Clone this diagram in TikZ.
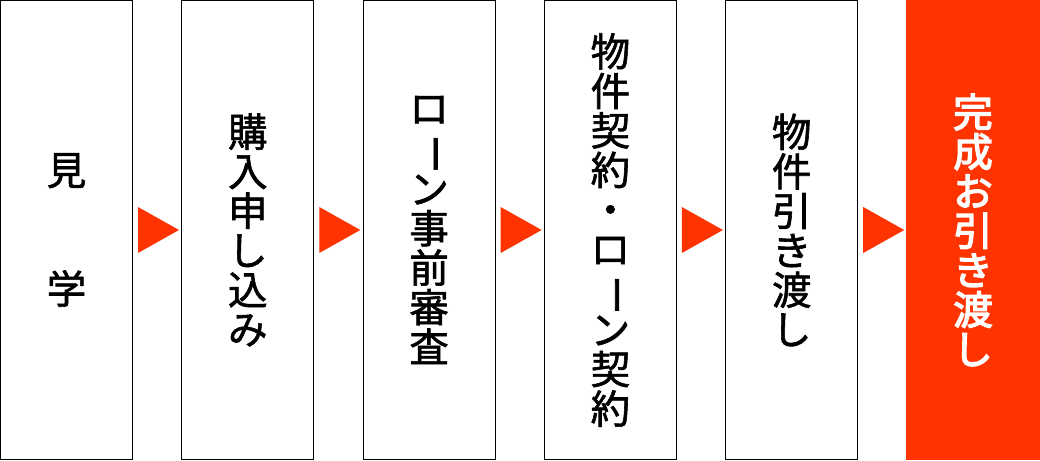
\documentclass[tikz,border=0pt]{standalone}
\usepackage{fontspec}
\usepackage{graphicx}
\newfontfamily\jp[FakeBold=1.5]{Noto Sans CJK JP}
\newfontfamily\jpgoal[FakeBold=3.5]{Noto Sans CJK JP}
\definecolor{stepred}{HTML}{FF3300}
\newcommand{\tatebou}{\rotatebox[origin=c]{-90}{ー}}

\begin{document}
\begin{tikzpicture}[x=1pt, y=1pt, node distance={181.3pt}, line width=1pt,
  main/.style = {draw, minimum width=132pt, minimum height=459pt, inner sep=0pt, align=center, font=\jp\fontsize{39.5}{39.5}\selectfont},
  goal/.style = {main, draw=none, fill=stepred, text=white, minimum width=134pt, minimum height=460pt, font=\jpgoal\fontsize{39.5}{39.5}\selectfont}]
\useasboundingbox (0,0) rectangle (1040,460);

\node[main] (1) at (66.5,230) {見\\　\\　\\学};
\node[main] (2) [right of=1] {購\\入\\申\\し\\込\\み};
\node[main] (3) [right of=2] {ロ\\\tatebou\\ン\\事\\前\\審\\査};
\node[main] (4) [right of=3] {物\\件\\契\\約\\・\\ロ\\\tatebou\\ン\\契\\約};
\node[main] (5) [right of=4] {物\\件\\引\\き\\渡\\し};
\node[goal] (6) [right of=5] {完\\成\\お\\引\\き\\渡\\し};

\fill[stepred] ([xshift=5pt, yshift=23pt]1.east) -- ([xshift=46pt]1.east) -- ([xshift=5pt, yshift=-23pt]1.east) -- cycle;
\fill[stepred] ([xshift=5pt, yshift=23pt]2.east) -- ([xshift=46pt]2.east) -- ([xshift=5pt, yshift=-23pt]2.east) -- cycle;
\fill[stepred] ([xshift=5pt, yshift=23pt]3.east) -- ([xshift=46pt]3.east) -- ([xshift=5pt, yshift=-23pt]3.east) -- cycle;
\fill[stepred] ([xshift=5pt, yshift=23pt]4.east) -- ([xshift=46pt]4.east) -- ([xshift=5pt, yshift=-23pt]4.east) -- cycle;
\fill[stepred] ([xshift=5pt, yshift=23pt]5.east) -- ([xshift=46pt]5.east) -- ([xshift=5pt, yshift=-23pt]5.east) -- cycle;

\end{tikzpicture}
\end{document}
